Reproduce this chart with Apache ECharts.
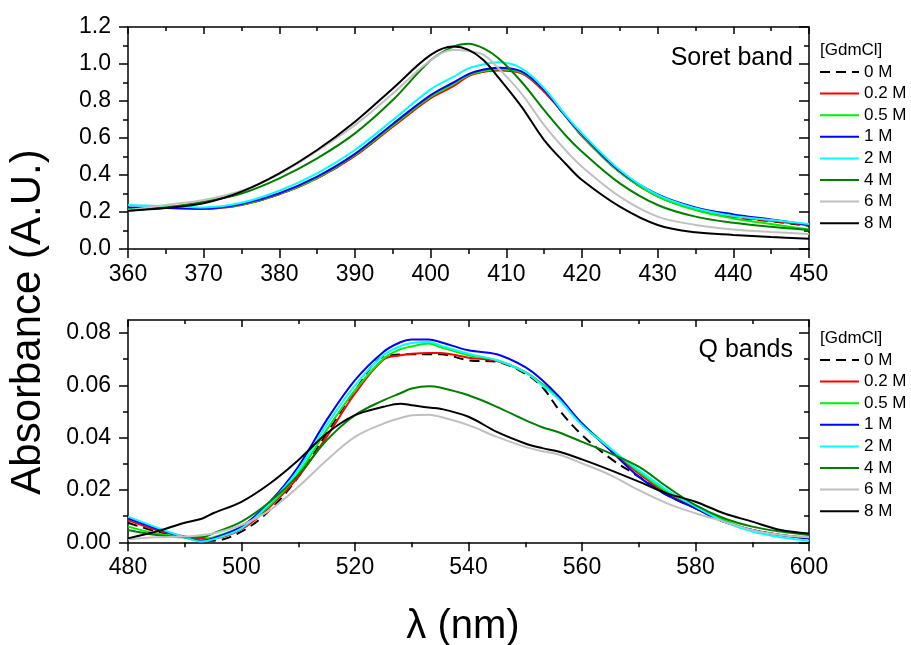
<!DOCTYPE html>
<html>
<head>
<meta charset="utf-8">
<script src="https://cdn.jsdelivr.net/npm/echarts@6/dist/echarts.min.js"></script>
<style>
html,body{margin:0;padding:0;background:#fff;}
#c{width:911px;height:645px;}
</style>
</head>
<body>
<div id="c"></div>
<script>
// ---------- Data ----------
var names = ['0 M', '0.2 M', '0.5 M', '1 M', '2 M', '4 M', '6 M', '8 M'];
var colors = ['#000000', '#ff0000', '#00ee00', '#0000ff', '#00ffff', '#008000', '#c0c0c0', '#000000'];

// Soret band (top)
var soretX = [360,365,370,375,380,385,390,395,400,403,405,407,409,412,415,418,420,425,430,435,440,445,450];
var soret0M  = [.220,.222,.219,.240,.297,.384,.505,.664,.818,.885,.937,.960,.967,.952,.853,.710,.612,.416,.286,.214,.172,.150,.125];
var soret02M = [.220,.222,.218,.238,.295,.382,.503,.661,.815,.880,.935,.958,.965,.950,.850,.710,.610,.415,.285,.215,.175,.153,.128];
var soret05M = [.220,.222,.220,.240,.298,.385,.508,.668,.823,.890,.940,.962,.972,.955,.860,.712,.615,.415,.285,.210,.165,.135,.105];
var soret1M  = [.225,.222,.218,.243,.301,.391,.514,.676,.832,.900,.945,.970,.980,.960,.860,.710,.620,.420,.295,.225,.187,.160,.130];
var soret2M  = [.238,.232,.225,.250,.315,.409,.535,.697,.863,.930,.976,.998,1.009,.976,.868,.715,.625,.427,.292,.220,.178,.157,.135];
var soret4M  = [.207,.225,.256,.300,.382,.490,.625,.805,1.020,1.094,1.110,1.085,1.030,.904,.751,.607,.526,.355,.238,.175,.142,.120,.103];
var soret6M  = [.210,.238,.265,.315,.405,.530,.670,.840,1.020,1.076,1.070,1.049,.975,.840,.670,.526,.445,.283,.175,.130,.106,.092,.081];
var soret8M  = [.207,.222,.247,.310,.409,.535,.688,.868,1.049,1.094,1.076,1.020,.925,.770,.589,.454,.373,.229,.130,.090,.076,.065,.056];

// Q bands (bottom)
var qX = [480,485,490,493,495,500,505,510,515,520,525,528,530,533,535,540,545,550,553,556,560,565,570,575,580,585,590,595,600];
var q0M  = [.0075,.0041,.0019,.0010,.0006,.0041,.0123,.0250,.0416,.0580,.0711,.0718,.0719,.0719,.0719,.0696,.0690,.0645,.0594,.0505,.0410,.0321,.0251,.0180,.0130,.0079,.0047,.0028,.0015];
var q02M = [.0085,.0047,.0022,.0015,.0015,.0050,.0136,.0250,.0403,.0569,.0698,.0715,.0721,.0724,.0724,.0706,.0693,.0651,.0605,.0550,.0454,.0352,.0263,.0187,.0130,.0079,.0045,.0028,.0015];
var q05M = [.0060,.0034,.0019,.0008,.0019,.0060,.0142,.0263,.0429,.0581,.0702,.0738,.0749,.0760,.0747,.0715,.0696,.0650,.0605,.0550,.0454,.0359,.0270,.0193,.0139,.0085,.0047,.0028,.0019];
var q1M  = [.0092,.0053,.0019,.0006,.0015,.0060,.0155,.0289,.0467,.0620,.0728,.0765,.0775,.0775,.0766,.0734,.0719,.0670,.0620,.0556,.0454,.0352,.0251,.0180,.0130,.0079,.0047,.0028,.0015];
var q2M  = [.0098,.0057,.0019,.0003,.0011,.0053,.0149,.0276,.0448,.0600,.0715,.0750,.0762,.0766,.0753,.0721,.0696,.0651,.0600,.0545,.0448,.0359,.0276,.0200,.0136,.0079,.0041,.0019,.0006];
var q4M  = [.0047,.0028,.0019,.0019,.0034,.0079,.0155,.0257,.0390,.0486,.0543,.0570,.0588,.0597,.0592,.0562,.0518,.0467,.0440,.0420,.0384,.0340,.0289,.0212,.0142,.0092,.0060,.0041,.0028];
var q6M  = [.0011,.0019,.0022,.0028,.0034,.0066,.0123,.0212,.0314,.0403,.0454,.0475,.0486,.0488,.0480,.0448,.0403,.0365,.0348,.0335,.0302,.0257,.0200,.0149,.0111,.0079,.0047,.0028,.0019];
var q8M  = [.0015,.0041,.0075,.0090,.0111,.0155,.0225,.0314,.0416,.0486,.0518,.0530,.0524,.0515,.0511,.0480,.0422,.0378,.0360,.0346,.0317,.0276,.0232,.0187,.0155,.0111,.0079,.0047,.0034];

var soretSets = [soret0M, soret02M, soret05M, soret1M, soret2M, soret4M, soret6M, soret8M];
var qSets = [q0M, q02M, q05M, q1M, q2M, q4M, q6M, q8M];

var qMajorTicks = [0, 0.02, 0.04, 0.06, 0.08];
var qMinorTicks = [0.01, 0.03, 0.05, 0.07];

// ---------- Chart ----------
var FONT = 'Liberation Sans, Arial, sans-serif';
function zip(xs, ys) { return xs.map(function (x, i) { return [x, ys[i]]; }); }

var axisLine = { show: true, onZero: false, lineStyle: { color: '#000', width: 1.5 } };
var labelStyle = { color: '#000', fontSize: 23, fontFamily: FONT };

function baseX(grid, min, max, interval, top) {
  return {
    type: 'value', gridIndex: grid, min: min, max: max, interval: interval,
    position: top ? 'top' : 'bottom',
    axisLine: axisLine,
    axisTick: { show: true, inside: !!top, length: top ? 7 : 9, lineStyle: { color: '#000', width: 1.5 } },
    minorTick: { show: true, splitNumber: 2, length: top ? 4 : 5, lineStyle: { color: '#000', width: 1.5 } },
    axisLabel: top ? { show: false } : Object.assign({ margin: 14 }, labelStyle),
    splitLine: { show: false }, minorSplitLine: { show: false }
  };
}

var series = [];
names.forEach(function (n, i) {
  var ls = { color: colors[i], width: 2, type: i === 0 ? [10, 6] : 'solid' };
  series.push({
    name: n, type: 'line', xAxisIndex: 0, yAxisIndex: 0, data: zip(soretX, soretSets[i]),
    showSymbol: false, symbol: 'none', smooth: 0.35, lineStyle: ls, itemStyle: { color: colors[i] }, z: 2 + i
  });
  series.push({
    name: n, type: 'line', xAxisIndex: 2, yAxisIndex: 2, data: zip(qX, qSets[i]),
    showSymbol: false, symbol: 'none', smooth: 0.35, lineStyle: ls, itemStyle: { color: colors[i] }, z: 2 + i
  });
});

var legendCommon = {
  orient: 'vertical', left: 819, padding: 0, itemWidth: 39, itemHeight: 14, itemGap: 4.6,
  itemStyle: { opacity: 0, borderWidth: 0 },
  textStyle: { color: '#000', fontSize: 17, fontFamily: FONT, padding: [0, 0, 0, 0] },
  data: names, selectedMode: false
};

var option = {
  backgroundColor: '#fff',
  animation: false,
  grid: [
    { left: 128, right: 102, top: 27, height: 222 },
    { left: 128, right: 102, top: 320, height: 222.3 }
  ],
  xAxis: [
    baseX(0, 360, 450, 10, false),
    baseX(0, 360, 450, 10, true),
    baseX(1, 480, 600, 20, false),
    baseX(1, 480, 600, 20, true)
  ],
  yAxis: [
    { // top left
      type: 'value', gridIndex: 0, min: 0, max: 1.2, interval: 0.2, position: 'left',
      axisLine: axisLine,
      axisTick: { show: true, length: 9, lineStyle: { color: '#000', width: 1.5 } },
      minorTick: { show: true, splitNumber: 2, length: 5, lineStyle: { color: '#000', width: 1.5 } },
      axisLabel: Object.assign({ margin: 17, formatter: function (v) { return v.toFixed(1); } }, labelStyle),
      splitLine: { show: false }
    },
    { // top right
      type: 'value', gridIndex: 0, min: 0, max: 1.2, interval: 0.2, position: 'right',
      axisLine: axisLine,
      axisTick: { show: true, inside: true, length: 10, lineStyle: { color: '#000', width: 1.5 } },
      minorTick: { show: true, splitNumber: 2, length: 5, lineStyle: { color: '#000', width: 1.5 } },
      axisLabel: { show: false }, splitLine: { show: false }
    },
    { // bottom left major
      type: 'value', gridIndex: 1, min: 0, max: 0.085, position: 'left',
      axisLine: axisLine,
      axisTick: { show: true, length: 9, customValues: qMajorTicks, lineStyle: { color: '#000', width: 1.5 } },
      axisLabel: Object.assign({ margin: 17, customValues: qMajorTicks, formatter: function (v) { return v.toFixed(2); } }, labelStyle),
      splitLine: { show: false }
    },
    { // bottom left minor
      type: 'value', gridIndex: 1, min: 0, max: 0.085, position: 'left',
      axisLine: { show: false },
      axisTick: { show: true, length: 5, customValues: qMinorTicks, lineStyle: { color: '#000', width: 1.5 } },
      axisLabel: { show: false }, splitLine: { show: false }
    },
    { // bottom right major
      type: 'value', gridIndex: 1, min: 0, max: 0.085, position: 'right',
      axisLine: axisLine,
      axisTick: { show: true, inside: true, length: 10, customValues: qMajorTicks, lineStyle: { color: '#000', width: 1.5 } },
      axisLabel: { show: false }, splitLine: { show: false }
    },
    { // bottom right minor
      type: 'value', gridIndex: 1, min: 0, max: 0.085, position: 'right',
      axisLine: { show: false },
      axisTick: { show: true, inside: true, length: 5, customValues: qMinorTicks, lineStyle: { color: '#000', width: 1.5 } },
      axisLabel: { show: false }, splitLine: { show: false }
    }
  ],
  legend: [
    Object.assign({ top: 63.5 }, legendCommon),
    Object.assign({ top: 351.5 }, legendCommon)
  ],
  graphic: [
    { type: 'text', left: 820, top: 42, style: { text: '[GdmCl]', fill: '#000', font: '17px ' + FONT } },
    { type: 'text', left: 820, top: 330, style: { text: '[GdmCl]', fill: '#000', font: '17px ' + FONT } },
    { type: 'text', x: 793, y: 58, style: { text: 'Soret band', fill: '#000', font: '25px ' + FONT, textAlign: 'right', textVerticalAlign: 'middle' } },
    { type: 'text', x: 793, y: 350, style: { text: 'Q bands', fill: '#000', font: '25px ' + FONT, textAlign: 'right', textVerticalAlign: 'middle' } },
    { type: 'text', x: 28, y: 322, rotation: Math.PI / 2, style: { text: 'Absorbance (A.U.)', fill: '#000', font: '42px ' + FONT, textAlign: 'center', textVerticalAlign: 'middle' } },
    { type: 'text', x: 463, y: 627, style: { text: 'λ (nm)', fill: '#000', font: '40px ' + FONT, textAlign: 'center', textVerticalAlign: 'middle' } }
  ],
  series: series
};

var chart = echarts.init(document.getElementById('c'), null, { renderer: 'canvas' });
chart.setOption(option);
</script>
</body>
</html>
